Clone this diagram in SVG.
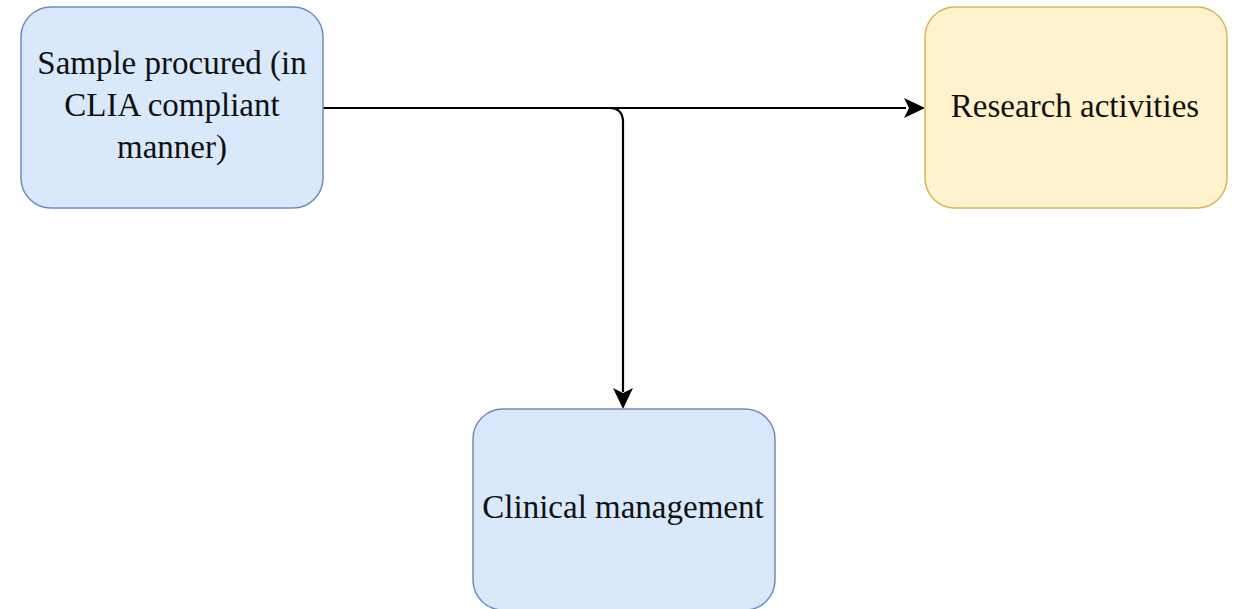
<svg xmlns="http://www.w3.org/2000/svg" width="1238" height="609" viewBox="0 0 1238 609">
<style>
.blue{fill:#dae8fc;stroke:#6c8ebf;stroke-width:1.5}
.yellow{fill:#fff2cc;stroke:#d6b656;stroke-width:1.5}
.t{font-family:"Liberation Serif","Times New Roman",serif;font-size:33px;fill:#111;text-anchor:middle}
.edge{fill:none;stroke:#000;stroke-width:2.2}
</style>
<rect width="1238" height="609" fill="#fff"/>
<g id="edges">
<path class="edge" d="M323,108 L906,108"/>
<path d="M925,108 L904,98 L909,108 L904,118 Z" fill="#000"/>
<path class="edge" d="M609,108 Q623,108 623,122 L623,392"/>
<path d="M623,409 L613,388 L623,393 L633,388 Z" fill="#000"/>
</g>
<g id="sample">
<rect class="blue" x="21" y="7" width="302" height="201" rx="30" ry="30"/>
<text class="t" x="172" y="74">Sample procured (in</text>
<text class="t" x="172" y="116">CLIA compliant</text>
<text class="t" x="172" y="158">manner)</text>
</g>
<g id="research">
<rect class="yellow" x="925" y="7" width="302" height="201" rx="30" ry="30"/>
<text class="t" x="1075" y="117">Research activities</text>
</g>
<g id="clinical">
<rect class="blue" x="473" y="409" width="302" height="201" rx="30" ry="30"/>
<text class="t" x="623" y="518">Clinical management</text>
</g>
</svg>
